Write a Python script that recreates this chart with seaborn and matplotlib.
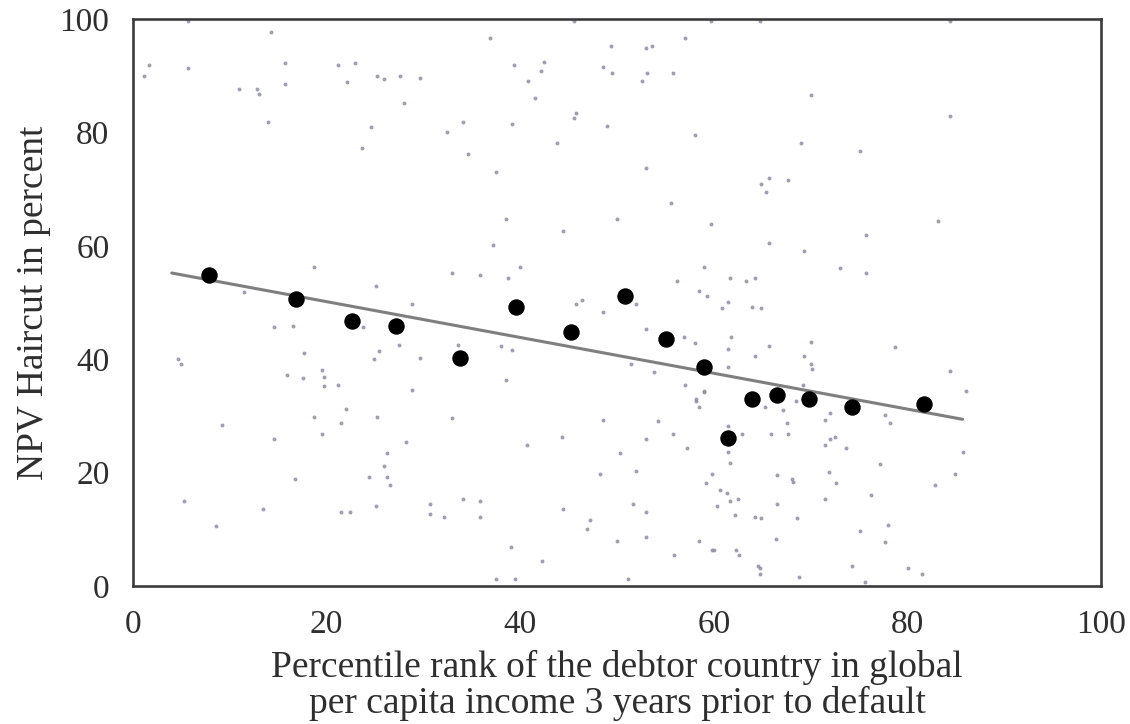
import matplotlib
matplotlib.use("Agg")
import matplotlib.pyplot as plt
import seaborn as sns
import pandas as pd

# Individual restructurings: income percentile rank vs. NPV haircut
rank_x = [
    5.7, 14.3, 1.7, 1.1, 5.7, 15.7, 15.7, 10.9, 12.8, 13.0, 13.9, 21.2, 22.9, 22.1, 25.2, 25.9,
    27.6, 29.6, 28.0, 24.6, 23.7, 32.4, 45.6, 59.7, 64.8, 36.9, 49.4, 53.0, 53.6, 57.0, 39.4,
    42.5, 42.1, 40.8, 41.5, 48.6, 49.5, 53.1, 52.6, 55.8, 45.8, 45.6, 34.1, 39.2, 49.0, 43.8,
    58.1, 34.6, 37.5, 53.0, 55.6, 65.7, 64.9, 65.4, 67.7, 84.4, 70.0, 84.4, 69.0, 75.1, 18.7,
    11.5, 25.1, 28.8, 33.0, 14.6, 16.5, 23.8, 27.5, 33.6, 4.6, 5.0, 17.7, 25.4, 24.9, 29.6,
    15.9, 17.6, 19.5, 19.7, 19.7, 21.2, 28.8, 38.5, 50.0, 59.7, 44.4, 37.2, 65.7, 40.0, 59.0,
    35.9, 38.7, 56.2, 61.7, 63.3, 64.3, 58.5, 59.3, 45.8, 46.4, 52.0, 48.6, 61.5, 60.9, 64.0,
    64.9, 53.0, 56.9, 58.1, 61.8, 61.5, 65.7, 38.0, 39.2, 64.3, 51.4, 53.8, 61.5, 38.5, 57.0,
    59.0, 58.2, 83.2, 75.7, 69.3, 73.0, 75.7, 70.0, 78.7, 69.3, 70.0, 70.1, 84.4, 86.1, 69.2,
    22.0, 18.7, 21.5, 25.2, 33.0, 9.2, 14.6, 19.5, 28.2, 26.2, 25.9, 24.4, 26.2, 26.5, 16.7,
    5.3, 13.4, 21.5, 22.4, 25.1, 30.7, 30.7, 32.1, 8.6, 59.0, 58.2, 58.5, 65.3, 67.2, 67.6,
    61.5, 62.9, 65.9, 67.7, 48.6, 54.2, 44.3, 53.0, 55.8, 40.7, 50.3, 57.2, 61.5, 61.7, 48.2,
    52.0, 59.8, 59.2, 60.6, 61.4, 61.7, 62.5, 66.5, 66.5, 60.3, 62.2, 64.3, 64.9, 34.1, 35.9,
    35.9, 44.4, 51.7, 53.0, 47.2, 46.9, 39.0, 50.0, 53.0, 58.5, 59.8, 60.0, 62.3, 62.6, 66.4,
    55.9, 42.3, 64.6, 64.8, 64.8, 37.5, 39.5, 51.1, 68.5, 72.0, 71.5, 77.7, 78.2, 72.5, 72.0,
    71.5, 73.7, 85.7, 77.2, 71.9, 84.9, 68.1, 68.2, 72.6, 82.9, 76.2, 71.5, 68.6, 78.0, 75.1,
    77.7, 74.3, 80.1, 81.5, 68.8, 75.6,
]
haircut_y = [
    99.6, 97.7, 91.9, 90.0, 91.4, 92.3, 88.6, 87.7, 87.7, 86.8, 81.9, 91.9, 92.3, 88.9, 90.0, 89.4,
    90.0, 89.6, 85.2, 81.0, 77.3, 80.1, 99.6, 99.6, 99.6, 96.7, 95.3, 94.9, 95.3, 96.7, 91.9,
    92.4, 90.8, 89.1, 86.1, 91.5, 90.5, 90.5, 89.1, 90.5, 83.4, 82.6, 81.8, 81.5, 81.1, 78.1,
    79.6, 76.2, 73.0, 73.7, 67.6, 72.0, 70.9, 69.5, 71.6, 99.6, 86.6, 82.9, 78.1, 76.7, 56.3,
    51.9, 52.9, 49.7, 55.2, 45.7, 45.9, 45.7, 42.5, 42.5, 40.0, 39.2, 41.1, 41.5, 40.0, 40.2,
    37.2, 36.7, 38.1, 36.9, 35.3, 35.5, 34.6, 64.7, 64.7, 63.9, 62.6, 60.2, 60.5, 56.3, 56.3,
    54.9, 54.3, 53.8, 54.3, 53.8, 54.3, 52.0, 51.2, 49.7, 50.4, 49.7, 48.3, 50.1, 49.0, 49.2,
    49.0, 45.3, 43.9, 42.9, 43.9, 41.8, 42.3, 42.3, 41.6, 40.6, 39.2, 37.7, 38.6, 36.3, 35.5,
    34.4, 33.0, 64.4, 61.9, 59.1, 56.1, 55.2, 43.0, 42.2, 40.6, 39.2, 38.3, 37.9, 34.4, 35.5,
    31.2, 29.8, 28.7, 29.8, 29.6, 28.4, 25.9, 26.8, 25.4, 23.5, 21.2, 19.2, 19.2, 17.8, 18.9,
    15.0, 13.6, 13.1, 13.1, 14.1, 14.5, 12.7, 12.2, 10.6, 34.2, 32.6, 31.6, 31.6, 31.0, 28.8,
    28.2, 26.8, 26.8, 26.8, 29.3, 29.1, 26.3, 25.9, 26.8, 24.9, 23.5, 24.3, 23.6, 21.7, 19.8,
    20.3, 19.8, 18.2, 16.9, 16.4, 15.0, 15.3, 19.6, 14.5, 14.1, 12.5, 12.2, 12.0, 15.3, 15.0,
    12.2, 13.6, 14.5, 13.1, 11.6, 10.1, 6.9, 7.9, 8.6, 7.9, 6.4, 6.4, 6.4, 5.5, 8.3,
    5.5, 4.4, 3.5, 3.2, 2.1, 1.2, 1.2, 1.2, 32.6, 30.5, 29.3, 30.2, 28.7, 26.3, 25.9,
    24.9, 24.3, 23.6, 21.5, 20.1, 19.8, 18.9, 18.3, 18.2, 17.8, 16.1, 15.3, 12.0, 10.8, 9.7,
    7.8, 3.5, 3.2, 2.1, 1.6, 0.7,
]

# Bin means (binned scatter)
bin_x = [7.85, 16.8, 22.6, 27.2, 33.8, 39.6, 45.2, 50.8, 55.1, 59.0, 61.5, 64.0, 66.5, 69.8, 74.3, 81.7]
bin_y = [54.9, 50.6, 46.7, 45.9, 40.2, 49.2, 44.8, 51.1, 43.6, 38.6, 26.1, 33.0, 33.7, 33.0, 31.6, 32.1]

# Linear fit endpoints
fit_x = [4.0, 85.7]
fit_y = [55.2, 29.4]

x_ticks = [0, 20, 40, 60, 80, 100]
y_ticks = [0, 20, 40, 60, 80, 100]

sns.set_theme(style="white")
plt.rcParams["font.family"] = ["Liberation Serif", "DejaVu Serif"]

fig = plt.figure(figsize=(11.3, 7.24), dpi=100)
ax = fig.add_axes([0.1177, 0.1906, 0.8566, 0.7832])

pts = pd.DataFrame({"x": rank_x, "y": haircut_y})
bins = pd.DataFrame({"x": bin_x, "y": bin_y})
fit = pd.DataFrame({"x": fit_x, "y": fit_y})

sns.scatterplot(data=pts, x="x", y="y", ax=ax, color="#8e8ea2", s=8,
                linewidth=0, alpha=0.85, zorder=2)
sns.lineplot(data=fit, x="x", y="y", ax=ax, color="#7f7f7f", linewidth=2.2, zorder=3)
sns.scatterplot(data=bins, x="x", y="y", ax=ax, color="black", s=140,
                linewidth=0, zorder=4)

ax.set_xlim(0, 100)
ax.set_ylim(0, 100)
ax.set_xticks(x_ticks)
ax.set_yticks(y_ticks)
ax.set_xticklabels([str(v) for v in x_ticks])
ax.set_yticklabels([str(v) for v in y_ticks])
ax.tick_params(axis="x", length=0, pad=17, labelsize=24, colors="#2e2e2e")
ax.tick_params(axis="y", length=0, pad=17, labelsize=24, colors="#2e2e2e")

for sp in ax.spines.values():
    sp.set_color("#3c3c3c")
    sp.set_linewidth(1.9)

ax.set_xlabel("Percentile rank of the debtor country in global\nper capita income 3 years prior to default",
              fontsize=27, color="#2e2e2e", labelpad=7, linespacing=1.05)
ax.set_ylabel("NPV Haircut in percent", fontsize=27, color="#2e2e2e", labelpad=6)

fig.savefig("out.png", dpi=100, facecolor="white")
